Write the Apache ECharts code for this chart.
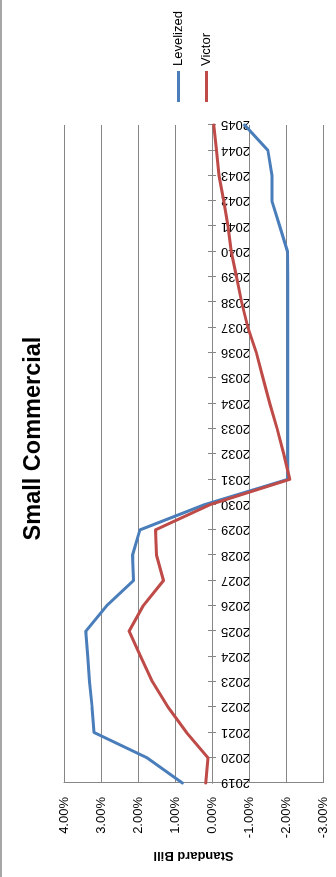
<!DOCTYPE html>
<html>
<head>
<meta charset="utf-8">
<script src="https://cdn.jsdelivr.net/npm/echarts@6/dist/echarts.min.js"></script>
<style>
  html, body { margin: 0; padding: 0; background: #fff; }
  body { width: 336px; height: 877px; position: relative; overflow: hidden; }
  /* chart is drawn landscape and turned a quarter turn, like the source picture */
  #chart {
    position: absolute; left: 0; top: 0;
    width: 877px; height: 336px;
    transform-origin: 0 0;
    transform: translateY(877px) rotate(-90deg);
  }
  #edge { position: absolute; left: 0; top: 0; width: 2px; height: 877px; background: #a6a6a6; }
</style>
</head>
<body>
<div id="chart"></div>
<div id="edge"></div>
<script>
const years = ['2019', '2020', '2021', '2022', '2023', '2024', '2025', '2026', '2027',
  '2028', '2029', '2030', '2031', '2032', '2033', '2034', '2035', '2036', '2037',
  '2038', '2039', '2040', '2041', '2042', '2043', '2044', '2045'];

// percent values
const levelized = [0.80, 1.76, 3.19, 3.24, 3.31, 3.36, 3.41, 2.85, 2.12, 2.15, 1.95, 0.20,
  -2.05, -2.05, -2.05, -2.05, -2.05, -2.05, -2.05, -2.05, -2.05, -2.04, -1.83, -1.62,
  -1.62, -1.51, -0.88];
const victor = [0.17, 0.11, 0.69, 1.19, 1.61, 1.93, 2.24, 1.86, 1.31, 1.50, 1.53, 0.05,
  -2.10, -1.94, -1.76, -1.56, -1.38, -1.20, -0.97, -0.80, -0.66, -0.52, -0.43, -0.32,
  -0.19, -0.12, -0.05];

const font = "'Liberation Sans', Arial, sans-serif";
const gridColor = '#868686';

// grid box; the value axis runs -3..4 so zero sits 4/7 of the way down
const gridTop = 64, gridBottom = 13, chartH = 336;
const plotH = chartH - gridTop - gridBottom;
const zeroFromTop = plotH * 4 / 7;

const chart = echarts.init(document.getElementById('chart'));

const option = {
  animation: false,
  title: {
    text: 'Small Commercial',
    left: 'center',
    top: 17,
    textStyle: {
      fontFamily: font,
      fontSize: 23.5,
      fontWeight: 'bold',
      color: '#000'
    }
  },
  legend: {
    orient: 'vertical',
    left: 770,
    top: 167,
    itemWidth: 31,
    itemHeight: 3,
    itemGap: 15,
    icon: 'rect',
    textStyle: { fontFamily: font, fontSize: 13, color: '#000' },
    data: ['Levelized', 'Victor']
  },
  grid: {
    left: 94,
    right: 125,
    top: gridTop,
    bottom: gridBottom,
    containLabel: false,
    outerBoundsMode: 'none'
  },
  xAxis: [
    {
      // labelled category axis, pulled up onto the zero line
      type: 'category',
      data: years,
      boundaryGap: false,
      position: 'bottom',
      offset: -(plotH - zeroFromTop),
      axisLine: { onZero: false, lineStyle: { color: gridColor, width: 1 } },
      axisTick: { show: true, length: 4, interval: 0, lineStyle: { color: gridColor } },
      axisLabel: {
        interval: 0,
        rotate: 90,
        margin: 9,
        fontFamily: font,
        fontSize: 13,
        color: '#000'
      },
      splitLine: { show: false }
    },
    {
      // second copy so the ticks cross the zero line
      type: 'category',
      data: years,
      boundaryGap: false,
      position: 'top',
      offset: -zeroFromTop,
      axisLine: { onZero: false, lineStyle: { color: gridColor, width: 1 } },
      axisTick: { show: true, length: 4, interval: 0, lineStyle: { color: gridColor } },
      axisLabel: { show: false },
      splitLine: { show: false }
    }
  ],
  yAxis: {
    type: 'value',
    min: -3,
    max: 4,
    interval: 1,
    name: 'Standard Bill',
    nameLocation: 'middle',
    nameRotate: 90,
    nameGap: 59,
    nameTextStyle: { fontFamily: font, fontSize: 13, fontWeight: 'bold', color: '#000' },
    axisLine: { show: true, onZero: false, lineStyle: { color: gridColor, width: 1 } },
    axisTick: { show: false },
    axisLabel: {
      margin: 14,
      fontFamily: font,
      fontSize: 13,
      color: '#000',
      formatter: v => v.toFixed(2) + '%'
    },
    splitLine: { show: true, lineStyle: { color: gridColor, width: 1 } }
  },
  series: [
    {
      name: 'Levelized',
      type: 'line',
      data: levelized,
      symbol: 'none',
      lineStyle: { color: '#4A7EBB', width: 3, cap: 'round', join: 'round' },
      itemStyle: { color: '#4A7EBB' }
    },
    {
      name: 'Victor',
      type: 'line',
      data: victor,
      symbol: 'none',
      lineStyle: { color: '#BE4B48', width: 3, cap: 'round', join: 'round' },
      itemStyle: { color: '#BE4B48' }
    }
  ]
};

chart.setOption(option);
</script>
</body>
</html>
